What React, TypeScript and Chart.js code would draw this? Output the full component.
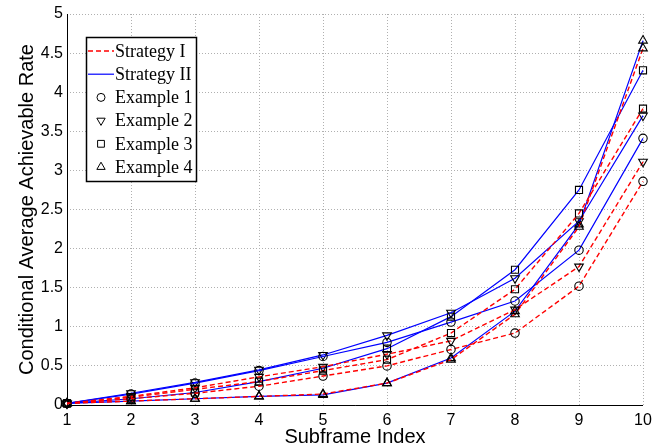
import React, { useEffect, useRef } from 'react';
import { Chart, registerables } from 'chart.js';

Chart.register(...registerables);

// ---- data ----
const subframes = [1, 2, 3, 4, 5, 6, 7, 8, 9, 10];

const ex1StrategyI = [0.02, 0.08, 0.15, 0.24, 0.37, 0.5, 0.71, 0.92, 1.52, 2.86];
const ex1StrategyII = [0.02, 0.14, 0.28, 0.44, 0.62, 0.8, 1.06, 1.33, 1.98, 3.41];
const ex2StrategyI = [0.02, 0.11, 0.22, 0.36, 0.49, 0.65, 0.82, 1.22, 1.77, 3.11];
const ex2StrategyII = [0.02, 0.15, 0.29, 0.45, 0.64, 0.89, 1.18, 1.62, 2.35, 3.7];
const ex3StrategyI = [0.02, 0.1, 0.2, 0.3, 0.44, 0.58, 0.92, 1.48, 2.45, 3.79];
const ex3StrategyII = [0.02, 0.08, 0.16, 0.3, 0.47, 0.72, 1.13, 1.73, 2.75, 4.28];
const ex4StrategyI = [0.02, 0.05, 0.08, 0.11, 0.14, 0.28, 0.58, 1.16, 2.28, 4.56];
const ex4StrategyII = [0.02, 0.05, 0.08, 0.11, 0.13, 0.28, 0.6, 1.2, 2.31, 4.66];

const strategyLabels = ['Strategy I', 'Strategy II'];
const exampleLabels = ['Example 1', 'Example 2', 'Example 3', 'Example 4'];
const xTitle = 'Subframe Index';
const yTitle = 'Conditional Average Achievable Rate';

const RED = '#ff0000';
const BLUE = '#0000ff';

type Marker = 'circle' | 'down' | 'square' | 'up';
const markerStyle: Record<Marker, { style: string; rotation: number; radius: number }> = {
  circle: { style: 'circle', rotation: 0, radius: 4.2 },
  down: { style: 'triangle', rotation: 180, radius: 5 },
  square: { style: 'rect', rotation: 0, radius: 5 },
  up: { style: 'triangle', rotation: 0, radius: 5 },
};

function makeSet(label: string, values: number[], strategy: 0 | 1, marker: Marker) {
  const m = markerStyle[marker];
  return {
    label,
    data: subframes.map((x, i) => ({ x, y: values[i] })),
    borderColor: strategy === 0 ? RED : BLUE,
    borderWidth: strategy === 0 ? 1.4 : 1.2,
    borderDash: strategy === 0 ? [5, 3] : [],
    pointStyle: m.style,
    pointRotation: m.rotation,
    pointRadius: m.radius,
    pointBorderColor: '#000',
    pointBackgroundColor: 'rgba(0,0,0,0)',
    pointBorderWidth: 1.1,
    tension: 0,
    fill: false,
    clip: false as const,
  };
}

function drawMarker(ctx: CanvasRenderingContext2D, kind: Marker, x: number, y: number) {
  ctx.beginPath();
  if (kind === 'circle') {
    ctx.arc(x, y, 4, 0, Math.PI * 2);
  } else if (kind === 'square') {
    ctx.rect(x - 3.4, y - 3.4, 6.8, 6.8);
  } else {
    const r = 4.8;
    const s = kind === 'up' ? -1 : 1;
    ctx.moveTo(x, y + s * r);
    ctx.lineTo(x - r * Math.sin(Math.PI / 3), y - s * r * 0.5);
    ctx.lineTo(x + r * Math.sin(Math.PI / 3), y - s * r * 0.5);
    ctx.closePath();
  }
  ctx.stroke();
}

const axisLinesPlugin = {
  id: 'solidAxes',
  beforeDatasetsDraw(chart: any) {
    const { ctx, chartArea } = chart;
    ctx.save();
    ctx.strokeStyle = '#000';
    ctx.lineWidth = 1;
    ctx.setLineDash([]);
    ctx.beginPath();
    ctx.moveTo(Math.round(chartArea.left) + 0.5, chartArea.top);
    ctx.lineTo(Math.round(chartArea.left) + 0.5, Math.round(chartArea.bottom) + 0.5);
    ctx.lineTo(chartArea.right, Math.round(chartArea.bottom) + 0.5);
    ctx.stroke();
    ctx.restore();
  },
};

const legendPlugin = {
  id: 'boxLegend',
  afterDatasetsDraw(chart: any) {
    const ctx: CanvasRenderingContext2D = chart.ctx;
    const bx = 86, by = 37, bw = 110, bh = 144;
    ctx.save();
    ctx.fillStyle = '#ffffff';
    ctx.fillRect(bx, by, bw, bh);
    ctx.strokeStyle = '#000';
    ctx.lineWidth = 1.5;
    ctx.strokeRect(bx + 0.5, by + 0.5, bw, bh);
    ctx.font = '18px "Liberation Serif", "Times New Roman", serif';
    ctx.textBaseline = 'middle';
    ctx.textAlign = 'left';
    const rowY = (i: number) => 51 + i * 23.2;
    strategyLabels.forEach((lab, i) => {
      const y = rowY(i);
      ctx.beginPath();
      ctx.strokeStyle = i === 0 ? RED : BLUE;
      ctx.lineWidth = i === 0 ? 1.4 : 1.2;
      ctx.setLineDash(i === 0 ? [5, 3] : []);
      ctx.moveTo(88, y);
      ctx.lineTo(114, y);
      ctx.stroke();
      ctx.setLineDash([]);
      ctx.fillStyle = '#000';
      ctx.fillText(lab, 115, y + 1);
    });
    const kinds: Marker[] = ['circle', 'down', 'square', 'up'];
    exampleLabels.forEach((lab, i) => {
      const y = rowY(i + 2);
      ctx.strokeStyle = '#000';
      ctx.lineWidth = 1;
      drawMarker(ctx, kinds[i], 101, y);
      ctx.fillStyle = '#000';
      ctx.fillText(lab, 115, y + 1);
    });
    ctx.restore();
  },
};

export default function App() {
  const ref = useRef<HTMLCanvasElement>(null);
  useEffect(() => {
    document.body.style.margin = '0';
    const canvas = ref.current!;
    const font = '"Liberation Sans", Arial, Helvetica, sans-serif';
    const chart = new Chart(canvas, {
      type: 'line',
      data: {
        datasets: [
          makeSet('Ex1 Strategy I', ex1StrategyI, 0, 'circle'),
          makeSet('Ex2 Strategy I', ex2StrategyI, 0, 'down'),
          makeSet('Ex3 Strategy I', ex3StrategyI, 0, 'square'),
          makeSet('Ex4 Strategy I', ex4StrategyI, 0, 'up'),
          makeSet('Ex1 Strategy II', ex1StrategyII, 1, 'circle'),
          makeSet('Ex2 Strategy II', ex2StrategyII, 1, 'down'),
          makeSet('Ex3 Strategy II', ex3StrategyII, 1, 'square'),
          makeSet('Ex4 Strategy II', ex4StrategyII, 1, 'up'),
        ] as any,
      },
      options: {
        responsive: false,
        animation: false,
        layout: { padding: { top: 14, right: 24, left: 0, bottom: 0 } },
        plugins: { legend: { display: false }, tooltip: { enabled: false } },
        scales: {
          x: {
            type: 'linear',
            min: 1,
            max: 10,
            afterFit: (s: any) => { s.height = 43; },
            ticks: { stepSize: 1, color: '#000', font: { family: font, size: 16 }, padding: 6, callback: (v: any) => String(v) },
            grid: { color: '#b0b0b0', lineWidth: 1, drawTicks: false },
            border: { display: false, dash: [1, 2] },
            title: { display: true, text: xTitle, color: '#000', font: { family: font, size: 20, lineHeight: 1 }, padding: { top: 0, bottom: 1 } },
          },
          y: {
            type: 'linear',
            min: 0,
            max: 5,
            afterFit: (s: any) => { s.width = 67; },
            ticks: { stepSize: 0.5, color: '#000', font: { family: font, size: 16 }, padding: 4, callback: (v: any) => String(v) },
            grid: { color: '#b0b0b0', lineWidth: 1, drawTicks: false },
            border: { display: false, dash: [1, 2] },
            title: { display: true, text: yTitle, color: '#000', font: { family: font, size: 20, lineHeight: 1 }, padding: { top: 17, bottom: 0 } },
          },
        },
      },
      plugins: [axisLinesPlugin, legendPlugin],
    } as any);
    return () => chart.destroy();
  }, []);
  return (
    <div style={{ width: 667, height: 448 }}>
      <canvas ref={ref} width={667} height={448} style={{ display: 'block' }} />
    </div>
  );
}
